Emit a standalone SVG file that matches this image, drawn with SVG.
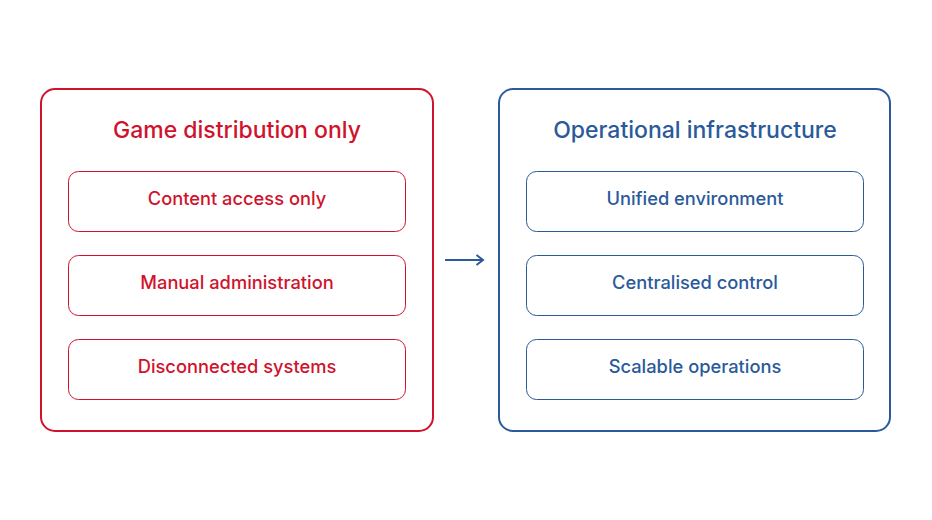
<svg xmlns="http://www.w3.org/2000/svg" width="932" height="520" viewBox="0 0 932 520">
<style>
.outer{fill:#fff;stroke-width:2}
.inner{fill:#fff;stroke-width:1}
.red{stroke:#d0122c}
.blue{stroke:#2a5a9a}
.t{font-family:Inter,"Liberation Sans",Arial,sans-serif;text-anchor:middle}
.title{font-size:23px;font-weight:500}
.lbl{font-size:18.3px;font-weight:500}
.rt{fill:#d0122c}
.bt{fill:#2a5a9a}
</style>
<defs>
<marker id="ah" viewBox="0 0 12 12" refX="10.5" refY="6" markerWidth="12" markerHeight="12" markerUnits="userSpaceOnUse" orient="auto">
<path d="M4,1 L10.5,6 L4,11" fill="none" stroke="#2a5a9a" stroke-width="2"/>
</marker>
</defs>
<rect width="932" height="520" fill="#fff"/>
<g id="left">
<rect class="outer red" x="41" y="89" width="392" height="342" rx="14"/>
<text class="t title rt" x="237" y="138">Game distribution only</text>
</g>
<g id="l1"><rect class="inner red" x="68.5" y="171.5" width="337" height="60" rx="10"/><text class="t lbl rt" x="237" y="205">Content access only</text></g>
<g id="l2"><rect class="inner red" x="68.5" y="255.5" width="337" height="60" rx="10"/><text class="t lbl rt" x="237" y="289">Manual administration</text></g>
<g id="l3"><rect class="inner red" x="68.5" y="339.5" width="337" height="60" rx="10"/><text class="t lbl rt" x="237" y="373">Disconnected systems</text></g>
<g id="right">
<rect class="outer blue" x="499" y="89" width="391" height="342" rx="14"/>
<text class="t title bt" x="695" y="138">Operational infrastructure</text>
</g>
<g id="r1"><rect class="inner blue" x="526.5" y="171.5" width="337" height="60" rx="10"/><text class="t lbl bt" x="695" y="205">Unified environment</text></g>
<g id="r2"><rect class="inner blue" x="526.5" y="255.5" width="337" height="60" rx="10"/><text class="t lbl bt" x="695" y="289">Centralised control</text></g>
<g id="r3"><rect class="inner blue" x="526.5" y="339.5" width="337" height="60" rx="10"/><text class="t lbl bt" x="695" y="373">Scalable operations</text></g>
<g id="connectors">
<line x1="445" y1="260" x2="483" y2="260" stroke="#2a5a9a" stroke-width="2" marker-end="url(#ah)"/>
</g>
</svg>
